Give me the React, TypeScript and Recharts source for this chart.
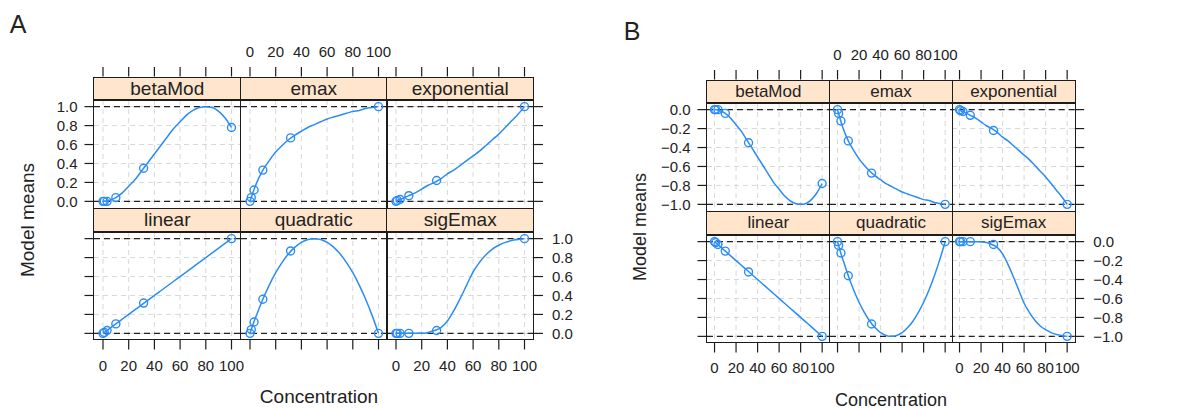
import React from 'react';
import { ComposedChart, Line, XAxis, YAxis, CartesianGrid, ReferenceLine } from 'recharts';

const models = ['betaMod', 'emax', 'exponential', 'linear', 'quadratic', 'sigEmax'];
const doses = [0, 1, 3.16, 10, 31.6, 100];
const curveDoses = [0, 1, 3, 5, 10, 15, 20, 25, 30, 35, 40, 45, 50, 55, 60, 65, 70, 75, 80, 85, 90, 95, 100];
const xTicks = [0, 20, 40, 60, 80, 100];
const yTicksA = [0, 0.2, 0.4, 0.6, 0.8, 1];
const yTicksB = [-1, -0.8, -0.6, -0.4, -0.2, 0];
const refLevelsA = [0, 1];
const refLevelsB = [-1, 0];

// panel A: model means at the doses
const pointsA = [
  [0, 0, 0, 0.04, 0.35, 0.78],
  [0, 0.04, 0.12, 0.33, 0.67, 1],
  [0, 0.01, 0.02, 0.06, 0.22, 1],
  [0, 0.01, 0.03, 0.1, 0.32, 1],
  [0, 0.04, 0.12, 0.36, 0.87, 0],
  [0, 0, 0, 0, 0.03, 1],
];
// panel A: fitted curves at curveDoses
const curvesA = [
  [0, 0, 0, 0.01, 0.04, 0.09, 0.16, 0.23, 0.32, 0.41, 0.5, 0.59, 0.68, 0.77, 0.84, 0.91, 0.96, 0.99, 1, 0.99, 0.95, 0.88, 0.78],
  [0, 0.04, 0.12, 0.19, 0.33, 0.43, 0.52, 0.59, 0.65, 0.7, 0.74, 0.78, 0.81, 0.84, 0.87, 0.89, 0.91, 0.93, 0.95, 0.96, 0.98, 0.99, 1],
  [0, 0.01, 0.02, 0.03, 0.06, 0.09, 0.13, 0.17, 0.2, 0.24, 0.29, 0.33, 0.38, 0.43, 0.48, 0.53, 0.59, 0.65, 0.71, 0.78, 0.85, 0.92, 1],
  [0, 0.01, 0.03, 0.05, 0.1, 0.15, 0.2, 0.25, 0.3, 0.35, 0.4, 0.45, 0.5, 0.55, 0.6, 0.65, 0.7, 0.75, 0.8, 0.85, 0.9, 0.95, 1],
  [0, 0.04, 0.12, 0.19, 0.36, 0.51, 0.64, 0.75, 0.84, 0.91, 0.96, 0.99, 1, 0.99, 0.96, 0.91, 0.84, 0.75, 0.64, 0.51, 0.36, 0.19, 0],
  [0, 0, 0, 0, 0, 0, 0, 0.01, 0.03, 0.06, 0.13, 0.24, 0.37, 0.51, 0.65, 0.75, 0.83, 0.89, 0.93, 0.96, 0.98, 0.99, 1],
];

// panel B
const pointsB = [
  [0, 0, 0, -0.04, -0.35, -0.78],
  [0, -0.04, -0.12, -0.33, -0.67, -1],
  [0, -0.01, -0.02, -0.06, -0.22, -1],
  [0, -0.01, -0.03, -0.1, -0.32, -1],
  [0, -0.04, -0.12, -0.36, -0.87, 0],
  [0, 0, 0, 0, -0.03, -1],
];
const curvesB = [
  [0, 0, 0, -0.01, -0.04, -0.09, -0.16, -0.23, -0.32, -0.41, -0.5, -0.59, -0.68, -0.77, -0.84, -0.91, -0.96, -0.99, -1, -0.99, -0.95, -0.88, -0.78],
  [0, -0.04, -0.12, -0.19, -0.33, -0.43, -0.52, -0.59, -0.65, -0.7, -0.74, -0.78, -0.81, -0.84, -0.87, -0.89, -0.91, -0.93, -0.95, -0.96, -0.98, -0.99, -1],
  [0, -0.01, -0.02, -0.03, -0.06, -0.09, -0.13, -0.17, -0.2, -0.24, -0.29, -0.33, -0.38, -0.43, -0.48, -0.53, -0.59, -0.65, -0.71, -0.78, -0.85, -0.92, -1],
  [0, -0.01, -0.03, -0.05, -0.1, -0.15, -0.2, -0.25, -0.3, -0.35, -0.4, -0.45, -0.5, -0.55, -0.6, -0.65, -0.7, -0.75, -0.8, -0.85, -0.9, -0.95, -1],
  [0, -0.04, -0.12, -0.19, -0.36, -0.51, -0.64, -0.75, -0.84, -0.91, -0.96, -0.99, -1, -0.99, -0.96, -0.91, -0.84, -0.75, -0.64, -0.51, -0.36, -0.19, 0],
  [0, 0, 0, 0, 0, 0, 0, -0.01, -0.03, -0.06, -0.13, -0.24, -0.37, -0.51, -0.65, -0.75, -0.83, -0.89, -0.93, -0.96, -0.98, -0.99, -1],
];

const FONT = 'Arial, "Liberation Sans", Helvetica, sans-serif';
const INK = '#222';
const FRAME = '#1c1c1c';
const BLUE = '#2b8cf6';
const STRIP = '#ffe5cc';
const TICK = 9.5;
const M = 60;
const MT = 70;
const MB = 50;

type Fig = {
  cols: number[];
  rows: number[];
  w: number;
  h: number;
  stripH: number;
  stripFont: number;
  tickFont: number;
  yDomain: number[];
  yTicks: number[];
  refLevels: number[];
  points: number[][];
  curves: number[][];
};

const figA: Fig = {
  cols: [94, 240.5, 387], rows: [100, 231.5], w: 146.5, h: 108, stripH: 23.5,
  stripFont: 19, tickFont: 15, yDomain: [-0.07, 1.07], yTicks: yTicksA,
  refLevels: refLevelsA, points: pointsA, curves: curvesA,
};
const figB: Fig = {
  cols: [707, 829.7, 952.3], rows: [103, 234.5], w: 122.7, h: 108, stripH: 23.5,
  stripFont: 17, tickFont: 15, yDomain: [-1.07, 0.07], yTicks: yTicksB,
  refLevels: refLevelsB, points: pointsB, curves: curvesB,
};

const Panel = ({ fig, i }: { fig: Fig; i: number }) => {
  const row = Math.floor(i / 3);
  const col = i % 3;
  const left = fig.cols[col];
  const top = fig.rows[row];
  const curve = curveDoses.map((x, k) => ({ x, y: fig.curves[i][k] }));
  const pts = doses.map((x, k) => ({ x, y: fig.points[i][k] }));
  const xOrient = row === 0 ? 'top' : 'bottom';
  const showX = row === 0 ? col === 1 : col !== 1;
  const yOrient = col === 2 ? 'right' : 'left';
  const hasY = col !== 1;
  const showY = (col === 0 && row === 0) || (col === 2 && row === 1);
  const fs = fig.tickFont;

  // axes are 1px thick (a 0px axis is not drawn), so the margins give that pixel back
  const margin = {
    top: xOrient === 'top' ? MT - 1 : MT,
    bottom: xOrient === 'bottom' ? MB - 1 : MB,
    left: yOrient === 'left' ? M - 1 : M,
    right: yOrient === 'right' ? M - 1 : M,
  };

  const xTick = (p: any) => {
    const { x, y, payload } = p;
    if (xOrient === 'top') {
      const y0 = y - fig.stripH;
      return (
        <g>
          <line x1={x} x2={x} y1={y0} y2={y0 - TICK} stroke={FRAME} strokeWidth={1.2} />
          {showX && (
            <text x={x} y={y0 - TICK - 10} textAnchor="middle" fontSize={fs} fontFamily={FONT} fill={INK}>
              {payload.value}
            </text>
          )}
        </g>
      );
    }
    return (
      <g>
        <line x1={x} x2={x} y1={y} y2={y + TICK} stroke={FRAME} strokeWidth={1.2} />
        {showX && (
          <text x={x} y={y + TICK + 21} textAnchor="middle" fontSize={fs} fontFamily={FONT} fill={INK}>
            {payload.value}
          </text>
        )}
      </g>
    );
  };

  const yTick = (p: any) => {
    const { x, y, payload } = p;
    const s = yOrient === 'left' ? -1 : 1;
    const label = Number(payload.value).toFixed(1).replace('-', '\u2212');
    return (
      <g>
        <line x1={x} x2={x + s * TICK} y1={y} y2={y} stroke={FRAME} strokeWidth={1.2} />
        {showY && (
          <text
            x={x + s * (TICK + (s < 0 ? 7 : 9))}
            y={y}
            dy="0.36em"
            textAnchor={s < 0 ? 'end' : 'start'}
            fontSize={fs}
            fontFamily={FONT}
            fill={INK}
          >
            {label}
          </text>
        )}
      </g>
    );
  };

  return (
    <div style={{ position: 'absolute', left: left - M, top: top - MT }}>
      <ComposedChart width={fig.w + 2 * M} height={fig.h + MT + MB} margin={margin}>
        <CartesianGrid stroke="#d8d8d8" strokeDasharray="5 4" verticalValues={xTicks} horizontalValues={fig.yTicks} />
        <XAxis
          dataKey="x"
          type="number"
          domain={[-7, 107]}
          ticks={xTicks}
          orientation={xOrient}
          height={1}
          tickSize={0}
          tickMargin={0}
          axisLine={false}
          tickLine={false}
          interval={0}
          tick={xTick}
          allowDataOverflow
        />
        <YAxis
          dataKey="y"
          type="number"
          domain={fig.yDomain}
          ticks={fig.yTicks}
          orientation={yOrient}
          width={1}
          tickSize={0}
          tickMargin={0}
          axisLine={false}
          tickLine={false}
          interval={0}
          tick={hasY ? yTick : false}
          allowDataOverflow
        />
        {fig.refLevels.map((v) => (
          <ReferenceLine key={v} y={v} stroke={INK} strokeWidth={1.1} strokeDasharray="6 4" />
        ))}
        <Line
          data={curve}
          dataKey="y"
          type="monotone"
          stroke={BLUE}
          strokeWidth={1.5}
          dot={false}
          activeDot={false}
          isAnimationActive={false}
        />
        <Line
          data={pts}
          dataKey="y"
          stroke="none"
          dot={{ r: 4, fill: 'none', stroke: BLUE, strokeWidth: 1.4 }}
          activeDot={false}
          isAnimationActive={false}
        />
      </ComposedChart>
    </div>
  );
};

const Frames = ({ fig }: { fig: Fig }) => (
  <>
    {models.map((name, i) => {
      const row = Math.floor(i / 3);
      const col = i % 3;
      const left = fig.cols[col];
      const top = fig.rows[row];
      return (
        <React.Fragment key={name}>
          <div
            style={{
              position: 'absolute', left: left - 0.75, top: top - fig.stripH, width: fig.w + 1.5, height: fig.stripH + 1,
              boxSizing: 'border-box', border: `1.5px solid ${FRAME}`, background: STRIP, textAlign: 'center',
              fontFamily: FONT, fontSize: fig.stripFont, lineHeight: `${fig.stripH - 2}px`, color: INK,
            }}
          >
            {name}
          </div>
          <div
            style={{
              position: 'absolute', left: left - 0.75, top: top - 0.75, width: fig.w + 1.5, height: fig.h + 1.5,
              boxSizing: 'border-box', border: `1.5px solid ${FRAME}`,
            }}
          />
        </React.Fragment>
      );
    })}
  </>
);

const Label = ({ x, y, size, rotate, children }: { x: number; y: number; size: number; rotate?: boolean; children: React.ReactNode }) => (
  <div
    style={{
      position: 'absolute', left: x, top: y, whiteSpace: 'nowrap', fontFamily: FONT, fontSize: size, color: INK,
      transform: `translate(-50%, -50%)${rotate ? ' rotate(-90deg)' : ''}`,
    }}
  >
    {children}
  </div>
);

const App = () => (
  <div style={{ position: 'absolute', left: 0, top: 0, width: 1196, height: 408, background: '#fff', overflow: 'hidden' }}>
    {models.map((m, i) => <Panel key={'a' + m} fig={figA} i={i} />)}
    {models.map((m, i) => <Panel key={'b' + m} fig={figB} i={i} />)}
    <Frames fig={figA} />
    <Frames fig={figB} />
    <Label x={18} y={24} size={25}>A</Label>
    <Label x={28} y={220} size={19} rotate>Model means</Label>
    <Label x={319} y={397} size={19}>Concentration</Label>
    <Label x={632} y={31} size={25}>B</Label>
    <Label x={640} y={227} size={18} rotate>Model means</Label>
    <Label x={891} y={400} size={18}>Concentration</Label>
  </div>
);

export default App;
